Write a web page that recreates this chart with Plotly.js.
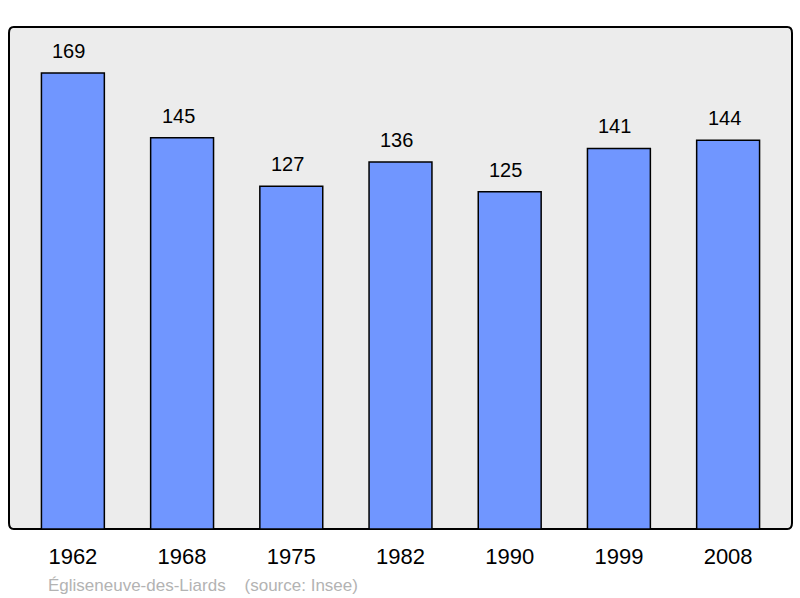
<!DOCTYPE html>
<html><head><meta charset="utf-8">
<script src="https://cdn.plot.ly/plotly-3.0.1.min.js"></script>
<style>html,body{margin:0;padding:0;background:#fff;}#c{width:800px;height:598px;}</style>
</head><body><div id="c"></div>
<script>
const years = ["1962","1968","1975","1982","1990","1999","2008"];
const population = [169,145,127,136,125,141,144];
const footerText = "Égliseneuve-des-Liards&nbsp;&nbsp;&nbsp;&nbsp;(source: Insee)";

const trace = {
  type: "bar",
  x: years.map((_, i) => i),
  y: population,
  width: 0.576,
  marker: {color: "#7096ff", line: {color: "#000", width: 1.5}},
  hoverinfo: "none"
};

const annotations = population.map((v, i) => ({
  x: i, y: v, xref: "x", yref: "y", text: String(v), showarrow: false,
  yanchor: "bottom", yshift: 9, xshift: -4,
  font: {family: "Liberation Sans, Arial, sans-serif", size: 20, color: "#000"}
}));
annotations.push({
  xref: "paper", yref: "paper", x: (49-9)/783, y: -0.112, xanchor: "left", yanchor: "middle",
  xshift: -3,
  text: footerText, showarrow: false,
  font: {family: "Liberation Sans, Arial, sans-serif", size: 17, color: "#b3b3b3"}
});

const layout = {
  width: 800, height: 598,
  margin: {l: 9, r: 8, t: 27, b: 69},
  paper_bgcolor: "#fff", plot_bgcolor: "rgba(0,0,0,0)",
  showlegend: false,
  xaxis: {
    range: [-0.585, 6.585], tickmode: "array", tickvals: years.map((_, i) => i), ticktext: years,
    showgrid: false, zeroline: false, showline: false, ticks: "",
    ticklabelstandoff: 12,
    tickfont: {family: "Liberation Sans, Arial, sans-serif", size: 22, color: "#000"},
    fixedrange: true
  },
  yaxis: {range: [0, 186], showgrid: false, zeroline: false, showticklabels: false, showline: false, fixedrange: true},
  shapes: [{
    type: "path", xref: "paper", yref: "paper", layer: "below",
    path: "M 0,0.012 L 0,0.988 Q 0,1 0.006,1 L 0.994,1 Q 1,1 1,0.988 L 1,0.012 Q 1,0 0.994,0 L 0.006,0 Q 0,0 0,0.012 Z",
    fillcolor: "#ececec", line: {color: "#000", width: 2}
  }],
  annotations: annotations
};
Plotly.newPlot("c", [trace], layout, {displayModeBar: false, staticPlot: true});
</script></body></html>
